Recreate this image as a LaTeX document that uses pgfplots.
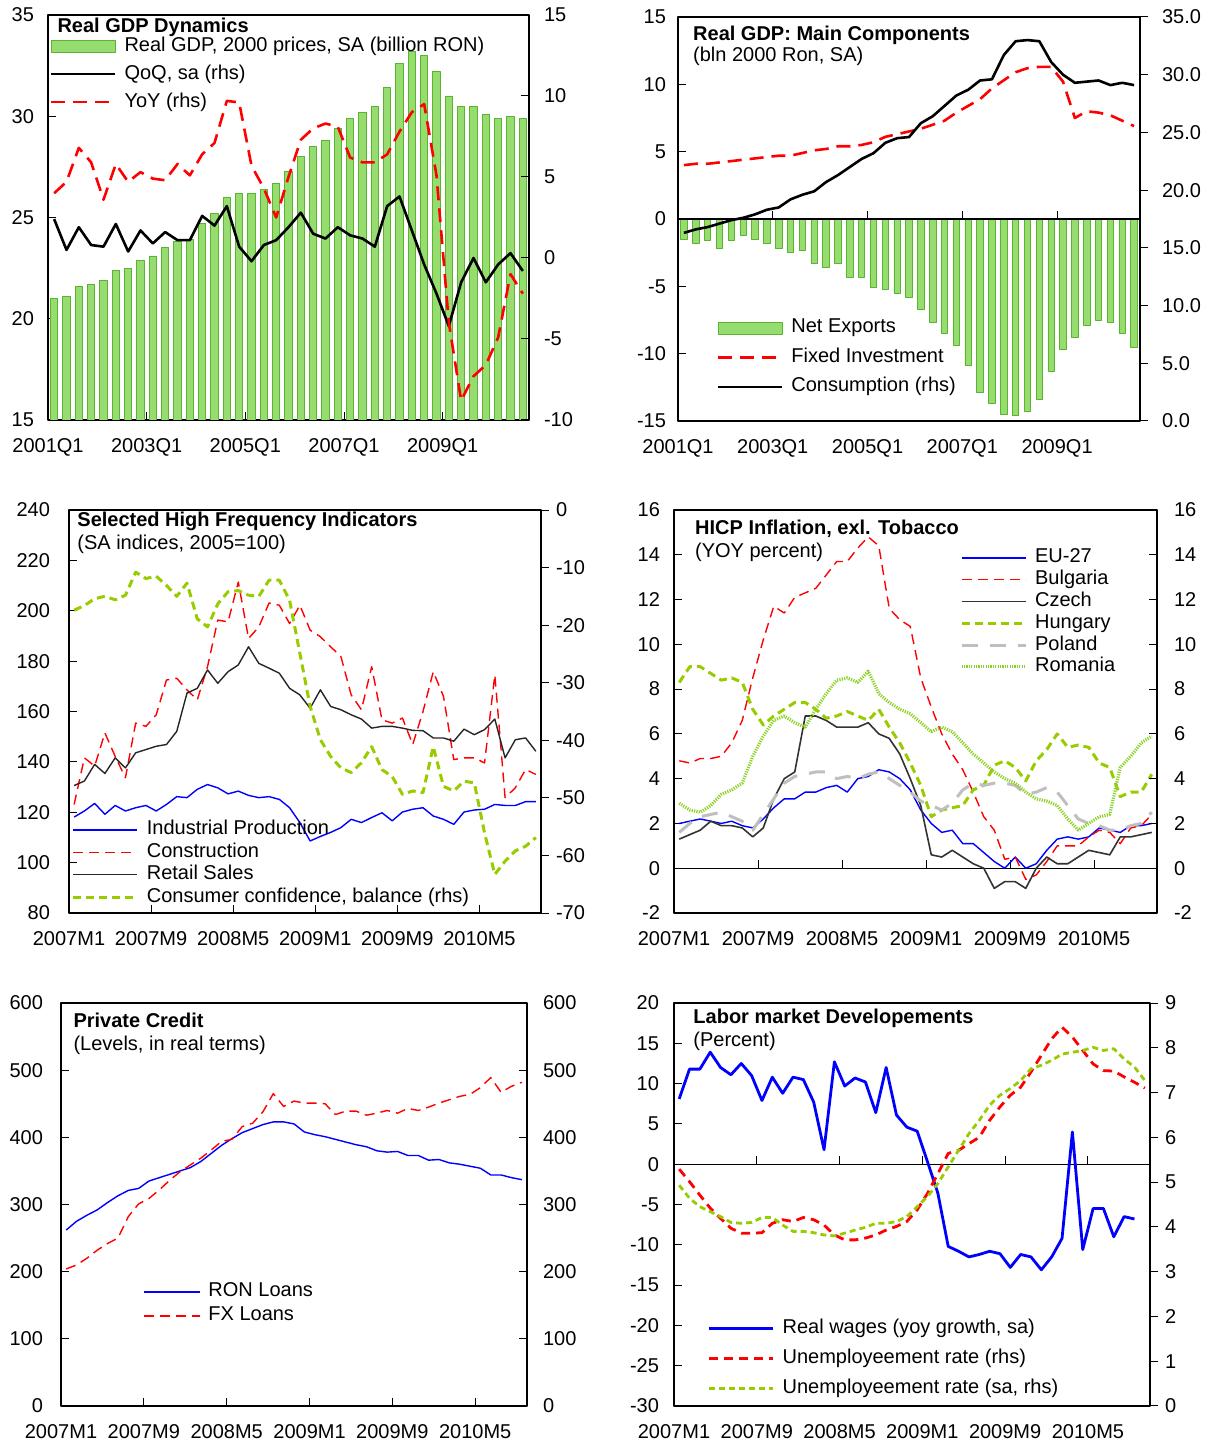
\documentclass[border=0pt]{standalone}
\usepackage{pgfplots}
\usepackage{pgfplotstable}
\pgfplotsset{compat=1.18}
\usepackage{fontspec}
\setmainfont{Liberation Sans}
\definecolor{barfill}{RGB}{150,220,110}
\definecolor{baredge}{RGB}{90,180,50}
\definecolor{mygreen}{RGB}{153,204,0}
\definecolor{mygray}{RGB}{191,191,191}
\definecolor{dotgreen}{RGB}{140,210,40}

\pgfplotstableread{
q gdp qoq yoy nx fi cons
0 21.0 2.4 4.0 -1.5 4.0 16.3
1 21.1 0.5 4.7 -1.8 4.1 16.6
2 21.6 1.9 6.8 -1.6 4.1 16.8
3 21.7 0.8 5.9 -2.2 4.2 17.1
4 21.9 0.7 3.6 -1.6 4.3 17.4
5 22.4 2.1 5.8 -1.2 4.4 17.6
6 22.5 0.4 4.7 -1.5 4.5 17.9
7 22.9 1.7 5.3 -1.8 4.6 18.3
8 23.1 0.9 4.9 -2.2 4.7 18.5
9 23.5 1.6 4.8 -2.5 4.7 19.2
10 23.8 1.1 5.8 -2.3 4.9 19.6
11 23.9 1.1 5.1 -3.3 5.1 19.9
12 24.7 2.6 6.4 -3.6 5.2 20.7
13 25.2 2.0 7.1 -3.3 5.4 21.3
14 26.0 3.2 9.7 -4.3 5.4 22.0
15 26.2 0.7 9.6 -4.3 5.5 22.7
16 26.2 -0.2 5.7 -5.1 5.7 23.2
17 26.4 0.8 4.3 -5.2 6.1 24.1
18 26.7 1.1 2.5 -5.5 6.3 24.5
19 27.3 1.9 5.0 -5.8 6.5 24.6
20 28.0 2.8 7.3 -6.7 6.7 25.8
21 28.5 1.5 8.0 -7.7 7.0 26.4
22 28.8 1.2 8.3 -8.5 7.3 27.3
23 29.4 1.9 8.1 -9.4 7.9 28.2
24 29.9 1.4 6.2 -10.9 8.4 28.7
25 30.2 1.2 5.9 -12.9 8.9 29.5
26 30.5 0.7 5.9 -13.7 9.7 29.6
27 31.4 3.2 6.4 -14.5 10.3 31.7
28 32.6 3.8 7.8 -14.6 10.9 32.9
29 33.2 1.7 9.0 -14.3 11.2 33.0
30 33.0 -0.4 9.5 -13.4 11.3 32.9
31 32.2 -2.2 5.1 -11.3 11.3 31.1
32 31.0 -4.2 -4.0 -9.7 10.2 30.0
33 30.5 -1.5 -8.8 -8.8 7.5 29.3
34 30.5 0.0 -7.3 -7.9 8.0 29.4
35 30.1 -1.5 -6.6 -7.5 7.9 29.5
36 29.9 -0.4 -4.9 -7.7 7.7 29.1
37 30.0 0.3 -1.0 -8.5 7.3 29.3
38 29.9 -0.8 -2.2 -9.5 6.9 29.1
}\quarterly

\pgfplotstableread{
m ip con ret cc
0 118.1 123.1 130.6 -17.4
1 120.5 141.6 132.4 -16.6
2 123.5 138.3 139.0 -15.4
3 119.2 151.5 135.4 -15.0
4 122.7 142.2 141.6 -15.6
5 120.5 133.7 137.6 -14.8
6 121.8 155.4 143.6 -10.8
7 122.7 154.1 144.9 -11.9
8 120.5 158.7 146.2 -11.5
9 123.1 172.5 146.9 -13.1
10 126.2 173.2 152.1 -15.0
11 125.8 168.6 167.3 -12.7
12 129.1 164.6 169.2 -18.9
13 131.0 177.8 176.5 -20.3
14 129.7 196.3 171.2 -16.3
15 127.3 195.6 175.8 -14.2
16 128.4 211.4 178.5 -14.0
17 126.7 189.0 185.7 -14.8
18 125.8 193.6 179.1 -15.0
19 126.2 203.1 177.2 -12.2
20 125.1 202.2 175.2 -12.2
21 121.8 194.9 169.2 -15.7
22 115.9 202.2 166.6 -24.9
23 108.6 192.3 161.3 -34.1
24 110.4 189.7 168.6 -39.9
25 112.0 185.7 162.0 -42.8
26 113.9 181.8 160.7 -44.8
27 117.2 166.6 158.7 -45.6
28 115.9 160.7 157.0 -43.9
29 117.9 177.8 153.4 -41.1
30 119.8 156.7 154.1 -45.1
31 116.6 155.4 154.1 -46.3
32 120.1 157.4 153.4 -49.4
33 121.2 146.9 152.5 -48.8
34 121.8 160.0 152.4 -49.1
35 118.5 175.8 149.5 -41.1
36 117.2 166.0 149.5 -48.0
37 115.2 140.9 148.2 -48.8
38 120.1 141.6 153.0 -47.1
39 120.9 141.6 150.8 -47.4
40 121.2 139.6 152.8 -56.1
41 123.1 174.5 157.0 -63.3
42 122.7 125.8 141.6 -61.0
43 122.7 129.7 148.8 -59.2
44 124.2 137.0 149.5 -58.4
45 124.2 135.0 144.2 -56.9
}\hfi

\pgfplotstableread{
m eu bg cz hu pl ro
0 2.0 4.8 1.3 8.3 1.6 2.9
1 2.1 4.7 1.5 9.0 2.0 2.6
2 2.2 4.9 1.7 9.0 2.3 2.5
3 2.1 4.9 2.1 8.7 2.4 2.8
4 2.0 5.0 1.9 8.4 2.5 3.3
5 2.1 5.6 1.9 8.5 2.3 3.5
6 1.9 6.6 1.8 8.3 2.1 3.8
7 1.8 8.5 1.4 7.1 1.7 5.0
8 2.2 10.2 1.8 6.4 2.4 5.9
9 2.7 11.7 3.1 6.8 3.1 6.6
10 3.1 11.4 4.0 7.1 3.8 6.8
11 3.1 12.1 4.3 7.4 4.1 6.5
12 3.4 12.3 6.8 7.4 4.2 6.3
13 3.4 12.5 6.8 7.1 4.3 7.1
14 3.6 13.1 6.6 6.7 4.3 7.8
15 3.7 13.7 6.3 6.8 4.0 8.4
16 3.4 13.7 6.3 7.0 4.1 8.5
17 4.0 14.3 6.3 6.8 4.0 8.3
18 4.1 14.8 6.5 6.6 4.2 8.8
19 4.4 14.4 6.0 7.1 4.3 7.8
20 4.3 11.6 5.8 6.3 4.0 7.4
21 4.0 11.1 5.1 5.6 3.7 7.1
22 3.5 10.8 4.0 4.7 3.4 6.9
23 2.6 8.5 2.8 3.7 3.0 6.5
24 2.0 7.2 0.6 2.3 2.8 6.1
25 1.6 6.0 0.5 2.6 2.6 6.3
26 1.7 5.1 0.8 2.7 2.9 6.1
27 1.1 4.4 0.5 2.8 3.5 5.6
28 1.1 3.4 0.2 3.5 3.8 5.1
29 0.7 2.3 0.0 3.7 3.7 4.7
30 0.3 1.7 -0.9 4.6 3.8 4.3
31 0.0 0.4 -0.6 4.8 3.8 4.0
32 0.5 0.5 -0.6 4.5 3.7 3.8
33 0.0 -0.5 -0.9 3.9 3.3 3.4
34 0.2 -0.3 0.0 4.8 3.4 3.1
35 0.8 0.3 0.5 5.3 3.6 3.0
36 1.3 1.0 0.2 6.0 3.4 2.8
37 1.4 1.0 0.2 5.4 2.8 2.2
38 1.3 1.0 0.5 5.5 2.2 1.7
39 1.4 1.4 0.8 5.4 2.0 2.0
40 1.8 1.7 0.7 4.7 1.9 2.3
41 1.7 1.6 0.6 4.5 1.7 2.4
42 1.6 1.1 1.4 3.2 1.7 4.5
43 1.9 1.8 1.4 3.4 1.9 5.0
44 1.9 1.9 1.5 3.4 2.0 5.6
45 2.0 2.4 1.6 4.2 2.5 5.9
}\hicp

\pgfplotstableread{
m ron fx
0 262 204
1 275 210
2 284 220
3 292 232
4 303 242
5 313 250
6 321 282
7 324 301
8 335 309
9 340 322
10 345 336
11 350 349
12 355 359
13 364 369
14 376 381
15 388 394
16 398 397
17 407 416
18 413 421
19 419 438
20 423 465
21 423 446
22 420 454
23 408 451
24 404 451
25 401 450
26 397 434
27 393 439
28 389 439
29 386 433
30 380 436
31 378 440
32 379 436
33 373 443
34 373 440
35 366 445
36 367 451
37 362 456
38 360 461
39 357 464
40 354 474
41 344 489
42 344 467
43 340 476
44 337 482
}\credit

\pgfplotstableread{
m wage ur ursa
0 8.1 5.29 4.93
1 11.8 5.01 4.64
2 11.8 4.71 4.45
3 13.9 4.42 4.34
4 12.0 4.19 4.23
5 11.1 3.97 4.10
6 12.5 3.86 4.08
7 11.0 3.86 4.10
8 7.9 3.87 4.21
9 10.8 4.08 4.21
10 8.8 4.16 4.04
11 10.8 4.12 3.90
12 10.5 4.21 3.90
13 7.7 4.16 3.87
14 1.8 4.04 3.82
15 12.7 3.82 3.80
16 9.7 3.71 3.86
17 10.7 3.71 3.93
18 10.2 3.75 3.99
19 6.4 3.82 4.08
20 12.0 3.93 4.08
21 6.1 4.01 4.12
22 4.6 4.12 4.23
23 4.1 4.38 4.45
24 0.3 4.75 4.68
25 -3.6 5.19 4.97
26 -10.2 5.64 5.34
27 -10.8 5.71 5.71
28 -11.5 5.86 6.08
29 -11.2 6.00 6.38
30 -10.8 6.38 6.72
31 -11.1 6.68 6.94
32 -12.8 6.94 7.09
33 -11.2 7.12 7.27
34 -11.5 7.46 7.53
35 -13.1 7.83 7.61
36 -11.5 8.20 7.72
37 -9.2 8.46 7.86
38 4.0 8.24 7.90
39 -10.6 7.94 7.94
40 -5.5 7.64 8.01
41 -5.5 7.49 7.94
42 -9.0 7.48 7.98
43 -6.5 7.35 7.75
44 -6.8 7.23 7.57
45 nan 7.10 7.27
}\labor

\tikzset{
  ttl/.style={anchor=base west, inner sep=0pt, font=\bfseries\fontsize{10}{12}\selectfont},
  sub/.style={anchor=base west, inner sep=0pt, font=\fontsize{10}{12}\selectfont},
}
\pgfplotsset{
  base/.style={scale only axis, anchor=north west, tick align=inside,
    major tick length=4pt,
    every tick/.style={black, line width=0.5pt},
    axis line style={black, line width=0.6pt},
    ticklabel style={font=\fontsize{10}{12}\selectfont},
    /pgf/number format/assume math mode=true,
    yticklabel style={/pgf/number format/fixed},
    xticklabel style={yshift=-5.5pt},
    legend cell align=left,
    legend style={draw=none, fill=none, inner sep=0pt, outer sep=0pt,
      font=\fontsize{10}{12}\selectfont, anchor=north west,
      nodes={inner sep=0pt, text height=7.5pt, text depth=2.5pt},
      column sep=4pt},
    line join=round,
  },
  wideline/.style={legend image code/.code={\draw[##1] (0pt,0pt) -- (32pt,0pt);}},
  wideline28/.style={legend image code/.code={\draw[##1] (0pt,0pt) -- (28pt,0pt);}},
  widearea/.style={legend image code/.code={\draw[##1] (0pt,-3pt) rectangle (32pt,3pt);}},
  qx/.style={xmin=-0.5, xmax=38.5, xtick={-0.5,7.5,15.5,23.5,31.5},
    xticklabels={2001Q1,2003Q1,2005Q1,2007Q1,2009Q1}},
  mx/.style={xmin=-0.5, xmax=45.5, xtick={-0.5,7.5,15.5,23.5,31.5,39.5},
    xticklabels={2007M1,2007M9,2008M5,2009M1,2009M9,2010M5}},
  rax/.style={axis y line*=right, axis x line=none},
  p1/.style={at={(24pt,-7.5pt)}, width=240.5pt, height=202.5pt},
  p2/.style={at={(339pt,-8.5pt)}, width=231pt, height=202pt},
  p3/.style={at={(34.5pt,-255pt)}, width=236pt, height=201.5pt},
  p4/.style={at={(337pt,-255pt)}, width=241.5pt, height=201.5pt},
  p5/.style={at={(30.5pt,-501.5pt)}, width=233pt, height=201.5pt},
  p6/.style={at={(337pt,-501.5pt)}, width=238pt, height=201.5pt},
}

\begin{document}
\begin{tikzpicture}
\path[use as bounding box] (0pt,0pt) rectangle (606pt,-721.5pt);

% ---------------- Panel 1 ----------------
\begin{axis}[base, p1, qx, ymin=15, ymax=35, ytick={15,20,...,35},
  ytick pos=left, xtick pos=bottom, yticklabel style={xshift=-3.5pt}]
\addplot[ybar, bar width=0.6, fill=barfill, draw=baredge, line width=0.4pt]
  table[x=q, y=gdp] {\quarterly};
\end{axis}
\begin{axis}[base, p1, rax, xmin=-0.5, xmax=38.5, ymin=-10, ymax=15,
  ytick={-10,-5,...,15}, wideline, yticklabel style={xshift=4pt},
  legend style={at={(0.004,0.948)}, row sep=4pt}]
\node[ttl] at (rel axis cs:0.019,0.958) {Real GDP Dynamics};
\addlegendimage{widearea, fill=barfill, draw=baredge}
\addlegendentry{Real GDP, 2000 prices, SA (billion RON)}
\addplot[black, line width=1.3pt] table[x=q, y=qoq] {\quarterly};
\addlegendentry{QoQ, sa (rhs)}
\addplot[red, line width=1.3pt, dash pattern=on 7pt off 4pt] table[x=q, y=yoy] {\quarterly};
\addlegendentry{YoY (rhs)}
\end{axis}

% ---------------- Panel 2 ----------------
\begin{axis}[base, p2, qx, ymin=-15, ymax=15, ytick={-15,-10,...,15},
  ytick pos=left, xtick pos=bottom, xtick style={draw=none}, wideline,
  yticklabel style={xshift=-2.5pt},
  legend style={at={(0.084,0.255)}, row sep=4.75pt}]
\node[ttl] at (rel axis cs:0.032,0.943) {Real GDP: Main Components};
\node[sub] at (rel axis cs:0.032,0.889) {(bln 2000 Ron, SA)};
\addplot[ybar, bar width=0.55, fill=barfill, draw=baredge, line width=0.4pt, widearea]
  table[x=q, y=nx] {\quarterly};
\addlegendentry{Net Exports}
\addplot[black, line width=0.6pt, forget plot] coordinates {(-0.5,0) (38.5,0)};
\addplot[black, line width=0.5pt, forget plot, unbounded coords=jump]
  coordinates {(7.5,0) (7.5,0.6) (7.5,nan) (15.5,0) (15.5,0.6) (15.5,nan)
  (23.5,0) (23.5,0.6) (23.5,nan) (31.5,0) (31.5,0.6)};
\addplot[red, line width=1.3pt, dash pattern=on 7pt off 4pt] table[x=q, y=fi] {\quarterly};
\addlegendentry{Fixed Investment}
\addlegendimage{black, line width=1.3pt}
\addlegendentry{Consumption (rhs)}
\end{axis}
\begin{axis}[base, p2, rax, xmin=-0.5, xmax=38.5, ymin=0, ymax=35,
  ytick={0,5,...,35}, ytick align=outside,
  yticklabel style={xshift=3.5pt, /pgf/number format/.cd, fixed, fixed zerofill, precision=1}]
\addplot[black, line width=1.3pt] table[x=q, y=cons] {\quarterly};
\end{axis}

% ---------------- Panel 3 ----------------
\begin{axis}[base, p3, mx, ymin=80, ymax=240, ytick={80,100,...,240},
  ytick pos=left, xtick pos=bottom, yticklabel style={xshift=-6pt}]
\addplot[blue, line width=0.7pt] table[x=m, y=ip] {\hfi};
\addplot[red, line width=0.7pt, dash pattern=on 5pt off 3pt] table[x=m, y=con] {\hfi};
\addplot[black!85, line width=0.7pt] table[x=m, y=ret] {\hfi};
\end{axis}
\begin{axis}[base, p3, rax, xmin=-0.5, xmax=45.5, ymin=-70, ymax=0,
  ytick={-70,-60,...,0}, ytick align=outside, wideline,
  legend style={at={(0.006,0.231)}, row sep=1.2pt}]
\node[ttl] at (rel axis cs:0.017,0.958) {Selected High Frequency Indicators};
\node[sub] at (rel axis cs:0.017,0.901) {(SA indices, 2005=100)};
\addlegendimage{blue, line width=0.7pt}
\addlegendentry{Industrial Production}
\addlegendimage{red, line width=0.7pt, dash pattern=on 5pt off 3pt}
\addlegendentry{Construction}
\addlegendimage{black!85, line width=0.7pt}
\addlegendentry{Retail Sales}
\addplot[mygreen, line width=1.5pt, dash pattern=on 4pt off 2.5pt] table[x=m, y=cc] {\hfi};
\addlegendentry{Consumer confidence, balance (rhs)}
\end{axis}

% ---------------- Panel 4 ----------------
\begin{axis}[base, p4, mx, ymin=-2, ymax=16, ytick={-2,0,...,16},
  ytick pos=left, xtick pos=bottom, xtick style={draw=none}, wideline,
  yticklabel style={xshift=-3.5pt},
  legend style={at={(0.592,0.906)}, row sep=0.9pt}]
\node[ttl] at (rel axis cs:0.043,0.940) {HICP Inflation, exl. Tobacco};
\node[sub] at (rel axis cs:0.043,0.883) {(YOY percent)};
\addplot[black, line width=0.6pt, forget plot] coordinates {(-0.5,0) (45.5,0)};
\addplot[black, line width=0.5pt, forget plot, unbounded coords=jump]
  coordinates {(7.5,0) (7.5,0.36) (7.5,nan) (15.5,0) (15.5,0.36) (15.5,nan)
  (23.5,0) (23.5,0.36) (23.5,nan) (31.5,0) (31.5,0.36) (31.5,nan) (39.5,0) (39.5,0.36)};
\addplot[blue, line width=0.7pt] table[x=m, y=eu] {\hicp};
\addlegendentry{EU-27}
\addplot[red, line width=0.7pt, dash pattern=on 5pt off 3pt] table[x=m, y=bg] {\hicp};
\addlegendentry{Bulgaria}
\addplot[black!80, line width=0.8pt] table[x=m, y=cz] {\hicp};
\addlegendentry{Czech}
\addplot[mygreen, line width=1.5pt, dash pattern=on 4pt off 2.5pt] table[x=m, y=hu] {\hicp};
\addlegendentry{Hungary}
\addplot[mygray, line width=1.5pt, dash pattern=on 8pt off 6pt] table[x=m, y=pl] {\hicp};
\addlegendentry{Poland}
\addplot[dotgreen, line width=1.6pt, dash pattern=on 0.6pt off 0.6pt] table[x=m, y=ro] {\hicp};
\addlegendentry{Romania}
\end{axis}
\begin{axis}[base, p4, rax, xmin=-0.5, xmax=45.5, ymin=-2, ymax=16,
  ytick={-2,0,...,16}, yticklabel style={xshift=5pt}]
\end{axis}

% ---------------- Panel 5 ----------------
\begin{axis}[base, p5, mx, xmax=44.5, ymin=0, ymax=600, ytick={0,100,...,600},
  ytick pos=left, xtick pos=bottom, wideline28, yticklabel style={xshift=-5.5pt},
  legend style={at={(0.176,0.308)}, row sep=2pt}]
\node[ttl] at (rel axis cs:0.026,0.940) {Private Credit};
\node[sub] at (rel axis cs:0.026,0.883) {(Levels, in real terms)};
\addplot[blue, line width=0.7pt] table[x=m, y=ron] {\credit};
\addlegendentry{RON Loans}
\addplot[red, line width=0.7pt, dash pattern=on 5pt off 3pt] table[x=m, y=fx] {\credit};
\addlegendentry{FX Loans}
\end{axis}
\begin{axis}[base, p5, rax, xmin=-0.5, xmax=44.5, ymin=0, ymax=600,
  ytick={0,100,...,600}, yticklabel style={xshift=4.5pt}]
\end{axis}

% ---------------- Panel 6 ----------------
\begin{axis}[base, p6, mx, ymin=-30, ymax=20, ytick={-30,-25,...,20},
  ytick pos=left, xtick pos=bottom, xtick style={draw=none},
  yticklabel style={xshift=-4pt}]
\addplot[black, line width=0.6pt, forget plot] coordinates {(-0.5,0) (45.5,0)};
\addplot[black, line width=0.5pt, forget plot, unbounded coords=jump]
  coordinates {(7.5,0) (7.5,1) (7.5,nan) (15.5,0) (15.5,1) (15.5,nan)
  (23.5,0) (23.5,1) (23.5,nan) (31.5,0) (31.5,1) (31.5,nan) (39.5,0) (39.5,1)};
\addplot[blue, line width=1.4pt] table[x=m, y=wage] {\labor};
\end{axis}
\begin{axis}[base, p6, rax, xmin=-0.5, xmax=45.5, ymin=0, ymax=9,
  ytick={0,1,...,9}, ytick align=outside, wideline,
  legend style={at={(0.071,0.218)}, row sep=5pt}]
\node[ttl] at (rel axis cs:0.040,0.950) {Labor market Developements};
\node[sub] at (rel axis cs:0.040,0.893) {(Percent)};
\addlegendimage{blue, line width=1.4pt}
\addlegendentry{Real wages (yoy growth, sa)}
\addplot[red, line width=1.4pt, dash pattern=on 4.5pt off 3pt] table[x=m, y=ur] {\labor};
\addlegendentry{Unemployeement rate (rhs)}
\addplot[mygreen, line width=1.4pt, dash pattern=on 3pt off 2pt] table[x=m, y=ursa] {\labor};
\addlegendentry{Unemployeement rate (sa, rhs)}
\end{axis}

\end{tikzpicture}
\end{document}
